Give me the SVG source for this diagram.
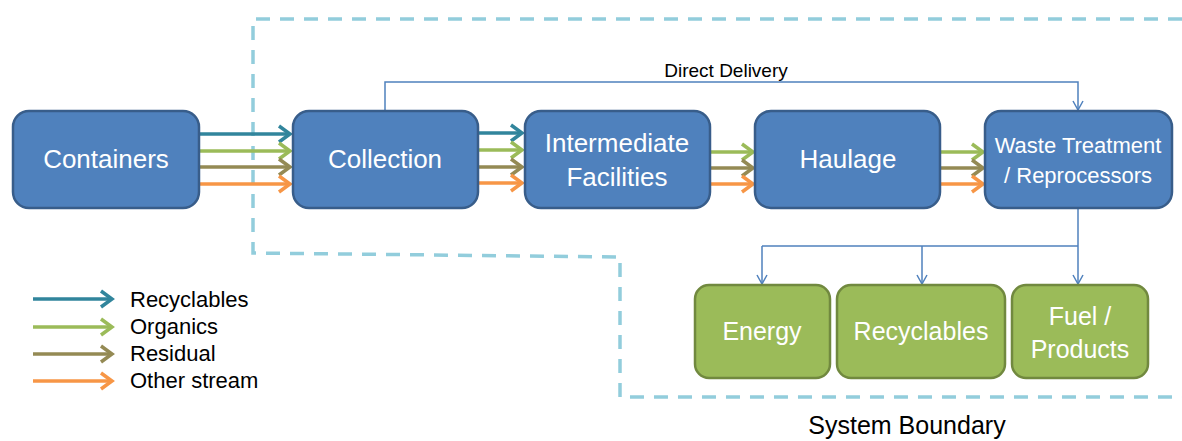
<svg xmlns="http://www.w3.org/2000/svg" width="1182" height="441" viewBox="0 0 1182 441">
<style>
.blue{fill:#4F81BD;stroke:#385D8A;stroke-width:2.5}
.green{fill:#9BBB59;stroke:#71893F;stroke-width:2.5}
.wt{fill:#FFFFFF;font-family:"Liberation Sans",Arial,sans-serif;text-anchor:middle}
.bk{fill:#000000;font-family:"Liberation Sans",Arial,sans-serif}
.s{fill:none;stroke-width:3.5}
.rec{stroke:#31859C}
.org{stroke:#9BBB59}
.res{stroke:#948A54}
.oth{stroke:#F79646}
.thin{fill:none;stroke:#4F81BD;stroke-width:1.5}
.bound{fill:none;stroke:#92CDDC;stroke-width:3.5;stroke-dasharray:14 10}
</style>
<defs>
<marker id="mRec" markerUnits="userSpaceOnUse" markerWidth="16" markerHeight="20" refX="13" refY="10" orient="auto"><path d="M2,2 L13,10 L2,18" fill="none" stroke="#31859C" stroke-width="3.5"/></marker>
<marker id="mOrg" markerUnits="userSpaceOnUse" markerWidth="16" markerHeight="20" refX="13" refY="10" orient="auto"><path d="M2,2 L13,10 L2,18" fill="none" stroke="#9BBB59" stroke-width="3.5"/></marker>
<marker id="mRes" markerUnits="userSpaceOnUse" markerWidth="16" markerHeight="20" refX="13" refY="10" orient="auto"><path d="M2,2 L13,10 L2,18" fill="none" stroke="#948A54" stroke-width="3.5"/></marker>
<marker id="mOth" markerUnits="userSpaceOnUse" markerWidth="16" markerHeight="20" refX="13" refY="10" orient="auto"><path d="M2,2 L13,10 L2,18" fill="none" stroke="#F79646" stroke-width="3.5"/></marker>
<marker id="mThin" markerUnits="userSpaceOnUse" markerWidth="12" markerHeight="14" refX="10" refY="7" orient="auto"><path d="M1,2 L10,7 L1,12" fill="none" stroke="#4F81BD" stroke-width="1.5"/></marker>
</defs>

<g id="system-boundary">
<path class="bound" d="M1182,19 L253,19 L253,253 L620,257 L620,397 L1182,397"/>
<text class="bk" x="907" y="434" font-size="25" text-anchor="middle">System Boundary</text>
</g>

<g id="connectors">
<line class="s rec" x1="199" y1="134" x2="290" y2="134" marker-end="url(#mRec)"/>
<line class="s org" x1="199" y1="151" x2="290" y2="151" marker-end="url(#mOrg)"/>
<line class="s res" x1="199" y1="167" x2="290" y2="167" marker-end="url(#mRes)"/>
<line class="s oth" x1="199" y1="184" x2="290" y2="184" marker-end="url(#mOth)"/>

<line class="s rec" x1="478" y1="133" x2="522" y2="133" marker-end="url(#mRec)"/>
<line class="s org" x1="478" y1="150" x2="522" y2="150" marker-end="url(#mOrg)"/>
<line class="s res" x1="478" y1="167" x2="522" y2="167" marker-end="url(#mRes)"/>
<line class="s oth" x1="478" y1="183" x2="522" y2="183" marker-end="url(#mOth)"/>

<line class="s org" x1="710" y1="152" x2="753" y2="152" marker-end="url(#mOrg)"/>
<line class="s res" x1="710" y1="168" x2="753" y2="168" marker-end="url(#mRes)"/>
<line class="s oth" x1="710" y1="184" x2="753" y2="184" marker-end="url(#mOth)"/>

<line class="s org" x1="940" y1="152" x2="983" y2="152" marker-end="url(#mOrg)"/>
<line class="s res" x1="940" y1="168" x2="983" y2="168" marker-end="url(#mRes)"/>
<line class="s oth" x1="940" y1="184" x2="983" y2="184" marker-end="url(#mOth)"/>

<path class="thin" d="M385,111 L385,82 L1078,82 L1078,110" marker-end="url(#mThin)"/>
<text class="bk" x="726" y="77" font-size="19" text-anchor="middle">Direct Delivery</text>

<path class="thin" d="M1078,209 L1078,246"/>
<path class="thin" d="M762,246 L1078,246"/>
<path class="thin" d="M762,246 L762,284" marker-end="url(#mThin)"/>
<path class="thin" d="M922,246 L922,284" marker-end="url(#mThin)"/>
<path class="thin" d="M1078,246 L1078,284" marker-end="url(#mThin)"/>
</g>

<g id="containers">
<rect class="blue" x="13" y="111" width="186" height="97" rx="16"/>
<text class="wt" x="106" y="168" font-size="26">Containers</text>
</g>
<g id="collection">
<rect class="blue" x="293" y="111" width="185" height="97" rx="16"/>
<text class="wt" x="385" y="168" font-size="26">Collection</text>
</g>
<g id="intermediate-facilities">
<rect class="blue" x="525" y="111" width="185" height="97" rx="16"/>
<text class="wt" x="617" y="152" font-size="26">Intermediate</text>
<text class="wt" x="617" y="186" font-size="26">Facilities</text>
</g>
<g id="haulage">
<rect class="blue" x="755" y="111" width="185" height="97" rx="16"/>
<text class="wt" x="848" y="168" font-size="26">Haulage</text>
</g>
<g id="waste-treatment">
<rect class="blue" x="985" y="111" width="187" height="97" rx="16"/>
<text class="wt" x="1078" y="153" font-size="22">Waste Treatment</text>
<text class="wt" x="1078" y="183" font-size="22">/ Reprocessors</text>
</g>

<g id="energy">
<rect class="green" x="695" y="285" width="135" height="93" rx="14"/>
<text class="wt" x="762" y="340" font-size="25">Energy</text>
</g>
<g id="recyclables">
<rect class="green" x="837" y="285" width="168" height="93" rx="14"/>
<text class="wt" x="921" y="340" font-size="25">Recyclables</text>
</g>
<g id="fuel-products">
<rect class="green" x="1012" y="285" width="136" height="93" rx="14"/>
<text class="wt" x="1080" y="325" font-size="25">Fuel /</text>
<text class="wt" x="1080" y="358" font-size="25">Products</text>
</g>

<g id="legend">
<line class="s rec" x1="33" y1="299" x2="112" y2="299" marker-end="url(#mRec)"/>
<line class="s org" x1="33" y1="327" x2="112" y2="327" marker-end="url(#mOrg)"/>
<line class="s res" x1="33" y1="354" x2="112" y2="354" marker-end="url(#mRes)"/>
<line class="s oth" x1="33" y1="381" x2="112" y2="381" marker-end="url(#mOth)"/>
<text class="bk" x="130" y="307" font-size="22">Recyclables</text>
<text class="bk" x="130" y="334" font-size="22">Organics</text>
<text class="bk" x="130" y="361" font-size="22">Residual</text>
<text class="bk" x="130" y="388" font-size="22">Other stream</text>
</g>
</svg>
